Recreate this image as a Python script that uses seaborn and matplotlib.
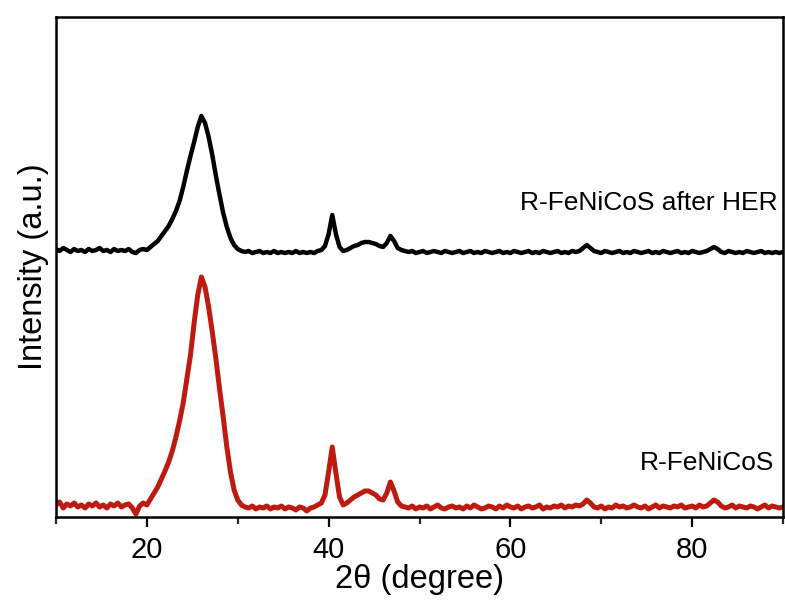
import numpy as np
import pandas as pd
import matplotlib
matplotlib.use("Agg")
import matplotlib.pyplot as plt
import seaborn as sns
from matplotlib.ticker import MultipleLocator

# 2-theta grid start/step (degrees)
theta_start = 10.0
theta_step = 0.4

# Intensity (a.u.), R-FeNiCoS after HER (offset trace)
after_her = [
    268, 266, 269, 267, 265, 268, 266, 267, 265, 268,
    266, 267, 269, 266, 267, 265, 268, 266, 267, 266,
    268, 265, 264, 267, 268, 267, 270, 273, 276, 281,
    286, 291, 298, 306, 316, 330, 346, 361, 375, 390,
    401, 394, 380, 362, 341, 322, 304, 290, 279, 272,
    268, 266, 265, 266, 264, 265, 266, 264, 265, 264,
    266, 264, 265, 264, 265, 264, 266, 264, 265, 264,
    265, 264, 266, 267, 271, 283, 302, 283, 270, 266,
    267, 269, 271, 272, 274, 275, 275, 274, 273, 271,
    270, 274, 281, 276, 269, 267, 266, 265, 266, 264,
    265, 266, 264, 265, 266, 265, 264, 266, 265, 264,
    265, 266, 264, 265, 266, 264, 265, 264, 266, 265,
    264, 265, 266, 264, 265, 264, 266, 265, 264, 265,
    266, 264, 265, 264, 266, 265, 264, 265, 266, 264,
    265, 264, 266, 265, 266, 269, 272, 269, 266, 265,
    264, 266, 265, 264, 265, 266, 264, 265, 264, 266,
    265, 264, 265, 266, 264, 265, 264, 266, 265, 264,
    265, 266, 264, 265, 264, 266, 265, 264, 265, 266,
    268, 270, 268, 265, 264, 266, 265, 264, 265, 264,
    266, 265, 264, 265, 266, 264, 265, 264, 265, 264,
    265,
]

# Intensity (a.u.), R-FeNiCoS
pristine = [
    12, 15, 9, 13, 11, 14, 10, 12, 9, 13,
    11, 14, 10, 12, 9, 13, 11, 14, 10, 12,
    13, 9, 3, 11, 14, 12, 18, 24, 30, 38,
    46, 55, 66, 80, 96, 114, 138, 162, 194, 222,
    240, 230, 210, 185, 158, 128, 100, 70, 45, 27,
    17, 12, 10, 9, 11, 8, 10, 9, 11, 8,
    10, 9, 11, 8, 10, 9, 7, 10, 9, 6,
    9, 10, 12, 14, 22, 45, 70, 44, 20, 12,
    14, 17, 20, 22, 24, 26, 26, 24, 22, 18,
    17, 24, 35, 26, 15, 11, 10, 9, 11, 8,
    10, 9, 11, 8, 10, 12, 9, 8, 10, 11,
    9, 10, 8, 11, 9, 12, 10, 8, 9, 11,
    10, 8, 11, 9, 12, 10, 9, 11, 8, 10,
    11, 9, 10, 12, 8, 10, 9, 11, 10, 12,
    9, 11, 10, 12, 11, 13, 17, 14, 10, 9,
    11, 8, 10, 9, 12, 10, 11, 9, 10, 12,
    10, 9, 11, 8, 10, 12, 9, 11, 10, 9,
    11, 10, 12, 9, 10, 11, 9, 12, 10, 11,
    14, 17, 15, 11, 9, 10, 12, 9, 11, 10,
    9, 11, 10, 8, 10, 12, 9, 11, 10, 9,
    10,
]

labels = ["R-FeNiCoS after HER", "R-FeNiCoS"]
xticks = [20, 40, 60, 80]

theta_a = theta_start + theta_step * np.arange(len(after_her))
theta_p = theta_start + theta_step * np.arange(len(pristine))
df_a = pd.DataFrame({"theta": theta_a, "I": after_her})
df_p = pd.DataFrame({"theta": theta_p, "I": pristine})

sns.set_style("ticks")
plt.rcParams["font.family"] = ["Liberation Sans", "DejaVu Sans"]
plt.rcParams["text.color"] = "black"
plt.rcParams["axes.labelcolor"] = "black"

fig = plt.figure(figsize=(7.85, 6.08), dpi=100)
ax = fig.add_axes([0.0713, 0.1497, 0.9262, 0.8223])

sns.lineplot(data=df_a, x="theta", y="I", ax=ax, color="#000000", lw=3.2)
sns.lineplot(data=df_p, x="theta", y="I", ax=ax, color="#BD1A10", lw=3.6)

ax.set_xlim(10, 90)
ax.set_ylim(0, 500)
ax.set_xticks(xticks)
ax.xaxis.set_minor_locator(MultipleLocator(10))
ax.set_yticks([])
ax.tick_params(axis="x", which="major", direction="out", length=7, width=1.6,
               labelsize=21, pad=7, colors="black")
ax.tick_params(axis="x", which="minor", direction="out", length=5, width=1.6)
for s in ax.spines.values():
    s.set_visible(True)
    s.set_linewidth(1.8)
    s.set_color("black")

ax.set_xlabel("2θ (degree)", fontsize=23.5, labelpad=0, color="black")
ax.set_ylabel("Intensity (a.u.)", fontsize=23.5, labelpad=5, color="black")

ax.text(89.4, 314, labels[0], ha="right", va="center", fontsize=19, color="black")
ax.text(89.0, 54, labels[1], ha="right", va="center", fontsize=19, color="black")

fig.savefig("out.png", dpi=100)
